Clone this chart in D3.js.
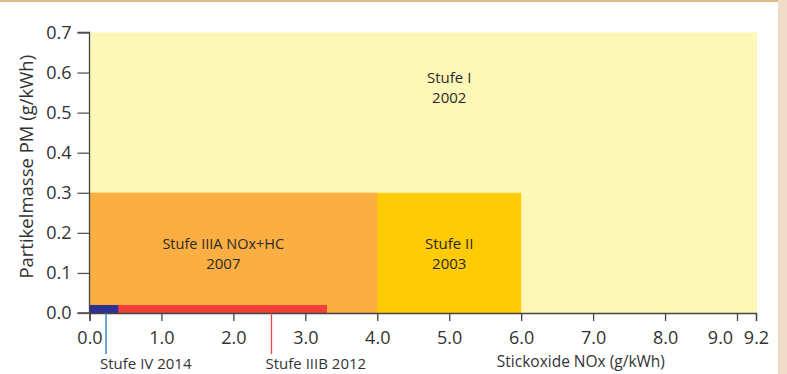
<!DOCTYPE html>
<html>
<head>
<meta charset="utf-8">
<script src="https://cdn.jsdelivr.net/npm/d3@7"></script>
<style>
  body { margin: 0; background: #fff; }
  svg { display: block; font-family: "Open Sans", sans-serif; }
</style>
</head>
<body>
<div id="chart"></div>
<script>
// Abgasstufen: NOx-Grenze (x) und PM-Grenze (y), Reihenfolge = Zeichenreihenfolge
const stages = ['Stufe I', 'Stufe II', 'Stufe IIIA NOx+HC', 'Stufe IIIB', 'Stufe IV'];
const years = [2002, 2003, 2007, 2012, 2014];
const noxLimit = [9.2, 6.0, 4.0, 3.3, 0.4];
const pmLimit = [0.7, 0.3, 0.3, 0.02, 0.02];
const xTicks = [0, 1, 2, 3, 4, 5, 6, 7, 8, 9, 9.2];
const yTicks = [0, 0.1, 0.2, 0.3, 0.4, 0.5, 0.6, 0.7];

const width = 787;
const height = 374;
const colors = ['#fef8b8', '#ffcb05', '#fbae41', '#ee4036', '#2e3192'];

const svg = d3.select('#chart')
  .append('svg')
  .attr('width', width)
  .attr('height', height);

// Rahmen oben / rechts (Seitenlayout)
svg.append('rect').attr('x', 0).attr('y', 0).attr('width', 778).attr('height', 2).attr('fill', '#dfb98a');
svg.append('rect').attr('x', 778).attr('y', 0).attr('width', 9).attr('height', height).attr('fill', '#eedcc6');

// x-Achse endet bei 9.2, der letzte Abschnitt ist gestaucht
const x = d3.scaleLinear()
  .domain([0, 9, 9.2])
  .range([89.5, 737, 756]);

const y = d3.scaleLinear()
  .domain([0, 0.7])
  .range([313, 32.5]);

const data = stages.map((s, i) => ({ name: s, year: years[i], nox: noxLimit[i], pm: pmLimit[i] }));

svg.append('g')
  .selectAll('rect')
  .data(data)
  .join('rect')
    .attr('x', x(0))
    .attr('y', d => y(d.pm))
    .attr('width', d => x(d.nox) - x(0) + (d.nox === 9.2 ? 1 : 0))
    .attr('height', d => y(0) - y(d.pm))
    .attr('fill', (d, i) => colors[i]);

// Beschriftungen in den Flächen (Name und Jahr als eigene Zeilen)
const inner = [
  { i: 0, x: 5.0, y: 0.575 },
  { i: 1, x: 5.0, y: 0.16 },
  { i: 2, x: 1.86, y: 0.16 }
];
inner.forEach(l => {
  svg.append('text')
    .attr('x', x(l.x)).attr('y', y(l.y))
    .attr('text-anchor', 'middle')
    .attr('font-size', l.i === 2 ? '14.5px' : '15px')
    .attr('fill', '#2a2a2a')
    .text(stages[l.i]);
  svg.append('text')
    .attr('x', x(l.x)).attr('y', y(l.y) + 20)
    .attr('text-anchor', 'middle')
    .attr('font-size', '15px')
    .attr('fill', '#2a2a2a')
    .text(years[l.i]);
});

function yAxis(g) {
  g.attr('transform', `translate(${x(0)},0)`)
    .call(d3.axisLeft(y).tickValues(yTicks).tickFormat(d3.format('.1f')).tickSize(12).tickPadding(6))
    .attr('font-size', '18px')
    .attr('font-family', '"Open Sans", sans-serif');
  g.select('.domain').attr('stroke', '#444').attr('stroke-width', 1.3).attr('d', `M-12,${y(0.7)}H0V${y(0)}H-12`);
  g.selectAll('.tick line').attr('stroke', '#555').attr('stroke-width', 1.3);
  g.selectAll('.tick text').attr('fill', '#333');
}

function xAxis(g) {
  g.attr('transform', `translate(0,${y(0)})`)
    .call(d3.axisBottom(x).tickValues(xTicks).tickFormat(d3.format('.1f')).tickSize(8).tickPadding(10))
    .attr('font-size', '18px')
    .attr('font-family', '"Open Sans", sans-serif');
  g.select('.domain').attr('stroke', '#444').attr('stroke-width', 1.3);
  g.selectAll('.tick line').attr('stroke', '#444').attr('stroke-width', 1.3);
  g.selectAll('.tick text').attr('fill', '#333')
    .attr('dx', d => d === 9 ? -17 : 0);
}

svg.append('g').call(xAxis);
svg.append('g').call(yAxis);

// Achsentitel
svg.append('text')
  .attr('transform', `translate(33,${(y(0) + y(0.7)) / 2 - 6}) rotate(-90)`)
  .attr('text-anchor', 'middle')
  .attr('font-size', '18.5px')
  .attr('fill', '#333')
  .text('Partikelmasse PM (g/kWh)');

svg.append('text')
  .attr('x', x(6.83))
  .attr('y', 367)
  .attr('text-anchor', 'middle')
  .attr('font-size', '15.5px')
  .attr('fill', '#333')
  .text('Stickoxide NOx (g/kWh)');

// Hinweislinien für Stufe IV und IIIB
const notes = [
  { i: 4, at: 0.23, color: '#1f78c1' },
  { i: 3, at: 2.53, color: '#e8434e' }
];
notes.forEach(n => {
  svg.append('line')
    .attr('x1', x(n.at)).attr('x2', x(n.at))
    .attr('y1', y(0)).attr('y2', 354)
    .attr('stroke', n.color).attr('stroke-width', 1.3);
  svg.append('text')
    .attr('x', x(n.at) - 6)
    .attr('y', 369)
    .attr('font-size', '15px')
    .attr('fill', '#333')
    .text(`${stages[n.i]} ${years[n.i]}`);
});
</script>
</body>
</html>
